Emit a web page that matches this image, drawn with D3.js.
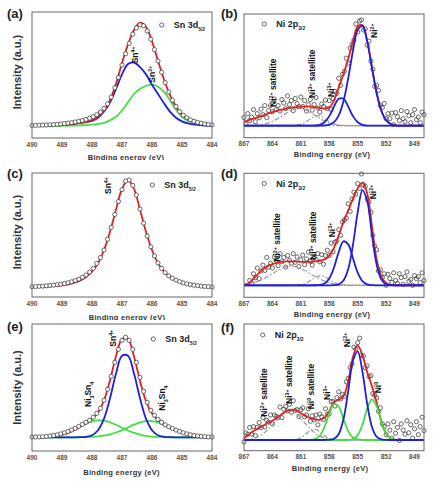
<!DOCTYPE html>
<html><head><meta charset="utf-8">
<script src="https://cdn.jsdelivr.net/npm/d3@7"></script>
<style>html,body{margin:0;padding:0;background:#fff;}svg{display:block;font-family:"Liberation Sans",Arial,sans-serif;}</style>
</head><body><svg id="c" width="443" height="483"></svg>
<script>
// ---------- data ----------
const snEnergy=[490,489.8,489.6,489.4,489.2,489,488.8,488.6,488.4,488.2,488,487.8,487.6,487.4,487.2,487,486.8,486.6,486.4,486.2,486,485.8,485.6,485.4,485.2,485,484.8,484.6,484.4,484.2,484];
const niEnergy=[867,866.5,866,865.5,865,864.5,864,863.5,863,862.5,862,861.5,861,860.5,860,859.5,859,858.5,858,857.5,857,856.5,856,855.5,855,854.5,854,853.5,853,852.5,852,851.5,851,850.5,850,849.5,849,848.5,848];
const snTicks=[490,489,488,487,486,485,484];
const niTicks=[867,864,861,858,855,852,849];

// (a) Sn 3d5/2
const aFit=[0.3,0.4,0.5,0.7,0.9,1.2,1.6,2.2,3,4,5.5,9,15,25,41,61,79,93,100,96,82,63,45,30,19,11,6.5,4,2.5,1.5,1];
const aSn4=[0.3,0.4,0.5,0.7,0.9,1.2,1.6,2.2,3,3.8,5,8,14,23,36,50,60,61.5,57,50,40,31,22,14,8,4.5,2.5,1.5,0.8,0.4,0.2];
const aSn2=[0,0,0.1,0.1,0.2,0.3,0.4,0.5,0.7,0.9,1.3,2,3,5.5,9,15,23,31,36,39,40,38,33,25,16,9,5,3,1.5,1,0.5];
const aPts=[0.5,0.6,0.7,0.8,1,1.2,1.4,1.7,2,2.4,2.8,3.3,3.9,4.6,5.4,6.4,7.6,9,11,13.5,17,21.5,28,37,47,59,70,80,89,95,98,97,92,84,74,63,52,42,33,25,19,14,10.5,8,6,4.6,3.5,2.7,2,1.5,1.2];
// (c) Sn 3d5/2
const cFit=[0.4,0.6,0.9,1.2,1.7,2.3,3.2,4.5,6.5,10,15,22.7,35,52,72.5,91.7,100,91.7,72.5,52,35,22.7,15,10,6.5,4.5,3.2,2.3,1.7,1.2,0.9];
const cPts=[1,1.1,1.3,1.5,1.8,2.1,2.4,2.8,3.3,3.9,4.6,5.5,6.6,8,9.7,11.8,14.5,18,22.5,28,35,45,56,68,80,91,99,100,95,86,73,60,48,38,29.5,23,18,14,11,8.8,7,5.6,4.5,3.6,2.9,2.3,1.9,1.5,1.2,1,0.8];
// (e) Sn 3d5/2
const eFit=[0.1,0.2,0.4,0.8,1.5,2.7,4.5,7,10.6,14.2,18.4,24.9,36.8,56.9,81,98.2,98.2,80.7,56.6,36.2,23.9,17.3,13.3,10,7.1,4.8,2.9,1.6,0.86,0.41,0.18];
const eSn4=[0,0,0,0,0,0,0,0,0.1,0.5,2,7,18.6,39,63.7,81.5,81.5,63.7,39,18.6,7,2,0.5,0.1,0,0,0,0,0,0,0];
const eNiSnA=[0.05,0.15,0.35,0.75,1.4,2.6,4.4,7,10.5,13.5,16,17,16.6,15,12.5,9.6,6.8,4.4,2.7,1.5,0.75,0.35,0.15,0.05,0,0,0,0,0,0,0];
const eNiSnB=[0,0,0,0,0,0,0,0,0.08,0.18,0.41,0.86,1.6,2.9,4.8,7.1,9.9,12.6,14.9,16.1,16.1,14.9,12.6,9.9,7.1,4.8,2.9,1.6,0.86,0.41,0.18];
const ePts=[0.2,0.3,0.4,0.6,0.9,1.3,1.8,2.5,3.4,4.5,5.8,7.3,9,11,13,15,17,20,24,29,37,48,61,75,88,97,100,97,88,75,60,46,35,27,22,18,15,12.5,10.5,8.8,7.2,5.8,4.5,3.4,2.5,1.8,1.3,0.9,0.6,0.4,0.3];

// (b) Ni 2p3/2
const bFit=[4,5.5,7,8.5,10,12,13.5,15,16,17,18,18.5,19,19,19,18.5,17.5,17,18,25,38,51.5,66.3,84,98.5,100,84.2,58,32.5,14.8,5.5,1.7,0.4,0.1,0,0,0,0,0];
const bNi2=[0,0,0,0,0,0,0,0,0,0,0,0,0,0,0,0,0,0.2,1,3.5,10.2,24.3,47.1,74.2,95.1,99.1,84,57.9,32.5,14.8,5.5,1.7,0.4,0.1,0,0,0,0,0];
const bNi3=[0,0,0,0,0,0,0,0,0,0,0,0,0,0,0,0.15,0.85,3.4,9.5,19,26.8,26.8,19,9.5,3.4,0.85,0.15,0,0,0,0,0,0,0,0,0,0,0,0];
const bSat1=[0.05,0.13,0.3,0.7,1.4,2.6,4.4,6.8,9.7,12.7,15.2,16.7,16.9,15.6,13.3,10.3,7.4,4.8,2.9,1.6,0.8,0.4,0.15,0.05,0,0,0,0,0,0,0,0,0,0,0,0,0,0,0];
const bSat2=[0,0,0,0,0,0,0,0,0,0,0.07,0.4,1.35,3.5,6.7,9.5,9.8,7.4,4.1,1.7,0.5,0.1,0,0,0,0,0,0,0,0,0,0,0,0,0,0,0,0,0];
const bPts=[8,1.5,12,5,8.5,16,4,12,8,16.5,11,20,8,15,20,14,26.5,16,20,14.5,26,22.5,17,29.5,21,25,15,27,22,19,28.5,19,25,14.5,21,26,15.5,21,28,17.5,13.5,21.5,19,25.5,17,25,16,27,34,32,47,40,51,54,67,62,77,81,85,101,93,104,105,95,96,80,84,64,56,39,40,35,20,18,22,7,12,7,12.5,1,13,9,5,15,7,4,14,10,3,11,16,6,8.5,3,13.5,11];
// (d) Ni 2p3/2
const dFit=[0.5,2,7,12,17,20,22,23.5,24.5,25,25,25,24.5,24.5,24.5,25,25.5,27,31,39,52,66,78,90,101,107,96,62,27,9,2.5,0.5,0,0,0,0,0,0,0];
const dNi2=[0,0,0,0,0,0,0,0,0,0,0,0,0,0,0,0,0,0,0,0.1,1,5,17,42,76,99.2,88.2,53.1,21.6,6,1.1,0.14,0,0,0,0,0,0,0];
const dNi3=[0,0,0,0,0,0,0,0,0,0,0,0,0,0,0,0.05,0.36,1.9,7.1,18.6,34.7,45.8,42.7,28.2,13.2,4.4,1,0.2,0,0,0,0,0,0,0,0,0,0,0];
const dSat1=[0.9,1.6,2.7,4.3,6.5,9.2,12.1,15.1,17.6,19.4,20,19.4,17.6,15.1,12.1,9.2,6.5,4.3,2.7,1.6,0.9,0.5,0.2,0.1,0,0,0,0,0,0,0,0,0,0,0,0,0,0,0];
const dSat2=[0,0,0,0,0,0,0,0,0,0,0,0.15,0.66,2.1,4.7,8,9.9,9.1,6.1,3,1.1,0.3,0.05,0,0,0,0,0,0,0,0,0,0,0,0,0,0,0,0];
const dPts=[5,2,12,8,18,7,15,21,15.5,29,19,23,18,29.5,26,20.5,33,24.5,29,19,31,26,23,33,24,29.5,19.5,26.5,31.5,21.5,27.5,34.5,25,21,29.5,27,33,24.5,32,22,31,36.5,31,44,35,45,46,58,52,66,68,70,85,77,90,97,95,106,101,116,105,103,90,87,76,52,41,37,15,16,8,12,0,11.5,7,3,13,5,2,12,8,1,9,14,4,6,0,10,7,9,3,13,5];
// (f) Ni 2p3/2
const fFit=[2,6,10,13,16,19,21.5,25,29,32.5,34,33,30,27,24.5,23,22.5,25,32,42.5,45,49,66,93,106,95,76,60.5,42,21,7.1,1.5,0.2,0,0,0,0,0,0];
const fNi2=[0,0,0,0,0,0,0,0,0,0,0,0,0,0,0,0,0,0,0.2,1.4,6.8,23.3,54.8,88.8,99.3,76.5,40.7,14.9,3.8,0.65,0.08,0,0,0,0,0,0,0,0];
const fNi3=[0,0,0,0,0,0,0,0,0,0,0,0,0,0,0.17,1.1,4.9,14.6,29.5,40.3,37.3,23.3,9.9,2.8,0.55,0.07,0,0,0,0,0,0,0,0,0,0,0,0,0];
const fNi0=[0,0,0,0,0,0,0,0,0,0,0,0,0,0,0,0,0,0,0,0,0,0,0.14,1.1,5.4,17.1,34.8,45.4,38,20.4,7,1.5,0.2,0,0,0,0,0,0];
const fSatA=[0.36,0.87,1.9,3.8,6.9,11.4,17,23,28.2,31.4,31.7,29.1,24.2,18.2,12.4,7.7,4.3,2.2,1,0.43,0.16,0,0,0,0,0,0,0,0,0,0,0,0,0,0,0,0,0,0];
const fSatB=[0,0,0,0,0,0,0,0,0,0,0.13,0.7,2.6,6.4,10.6,11.9,9.1,4.7,1.6,0.4,0.06,0,0,0,0,0,0,0,0,0,0,0,0,0,0,0,0,0,0];
const fPts=[-2,8,6.5,14,6.5,15,5,14,19.5,14,25,14.5,22,20,28,18,28,26.5,25,37,25,34.5,37.5,32.5,40,31,44,33,34,26,34,36,26,28,35,21,27,22.5,28,17,29,26,23,35,29,29,43,43,38,47.5,54,46,51,49,65,69,81,85,104,102,109,114,95,94,81,83,71,72,52,50,47,32,36,18,15,6,18,11,2,20.5,7.5,14,-0.5,18,11,6.5,21.5,8,17,2,12.5,20.5,6,15,25.5,10.5];

// ---------- style ----------
const RED="#e3211f",BLUE="#1f1fdc",GREEN="#3fe03f",GRAY="#9a9a9a";
const svg=d3.select("#c");
const defs=svg.append("defs");
defs.append("clipPath").attr("id","row1").append("rect").attr("x",0).attr("y",0).attr("width",443).attr("height",160);
defs.append("clipPath").attr("id","row2").append("rect").attr("x",0).attr("y",0).attr("width",443).attr("height",320);

const sup=t=>[t,"sup"], sub=t=>[t,"sub"], n=t=>[t,""];
const panels=[
 {lab:"(a)",lx:7,ly:18,box:[32,12,212,138],xd:[490,484],yd:[-11.6,110.4],ticks:snTicks,E:snEnergy,sn:true,
  curves:[{v:aSn2,c:GREEN},{v:aSn4,c:BLUE},{v:aFit,c:RED}],pts:aPts,p0:490,ps:0.12,
  leg:{t:"Sn 3d",s:"5/2",cx:161.7,cy:25},xt:{x:126,y:159.5,clip:"row1"},yt:72,
  labels:[{p:[n("Sn"),sup("4+")],x:135.3,y:63.3},{p:[n("Sn"),sup("2+")],x:151.7,y:82.7}]},
 {lab:"(b)",lx:221,ly:18,box:[244,14,424,137.7],xd:[867,848],yd:[-11.9,110.9],ticks:niTicks,E:niEnergy,sn:false,
  sats:[bSat1,bSat2],curves:[{v:bFit,c:RED},{v:bNi3,c:BLUE},{v:bNi2,c:BLUE}],pts:bPts,p0:867,ps:0.2,
  leg:{t:"Ni 2p",s:"3/2",cx:264.3,cy:24},xt:{x:332,y:157},
  labels:[{p:[n("Ni"),sup("2+"),n(" satellite")],x:272.7,y:107},{p:[n("Ni"),sup("3+"),n(" satellite")],x:311.7,y:98},
          {p:[n("Ni"),sup("3+")],x:331,y:97},{p:[n("Ni"),sup("2+")],x:374,y:38}]},
 {lab:"(c)",lx:7,ly:178,box:[32,173,212,297],xd:[490,484],yd:[-8.6,106.5],ticks:snTicks,E:snEnergy,sn:true,
  curves:[{v:cFit,c:RED}],pts:cPts,p0:490,ps:0.12,
  leg:{t:"Sn 3d",s:"5/2",cx:152.3,cy:185},xt:{x:127,y:319.5,clip:"row2"},yt:232,
  labels:[{p:[n("Sn"),sup("4+")],x:108,y:194}]},
 {lab:"(d)",lx:221,ly:177.5,box:[244,173.3,424,297.3],xd:[867,848],yd:[-12.5,116.7],ticks:niTicks,E:niEnergy,sn:false,
  sats:[dSat1,dSat2],curves:[{v:dFit,c:RED},{v:dNi3,c:BLUE},{v:dNi2,c:BLUE}],pts:dPts,p0:866.4,ps:0.2,
  leg:{t:"Ni 2p",s:"3/2",cx:264.3,cy:183.5},xt:{x:332,y:317},
  labels:[{p:[n("Ni"),sup("2+"),n(" satellite")],x:277,y:261.7},{p:[n("Ni"),sup("3+"),n(" satellite")],x:312.7,y:260},
          {p:[n("Ni"),sup("3+")],x:332,y:237.3},{p:[n("Ni"),sup("2+")],x:372.7,y:199.3}]},
 {lab:"(e)",lx:7,ly:331,box:[32,324,212,451],xd:[490,484],yd:[-13.7,113.3],ticks:snTicks,E:snEnergy,sn:true,
  curves:[{v:eNiSnA,c:GREEN},{v:eNiSnB,c:GREEN},{v:eSn4,c:BLUE},{v:eFit,c:RED}],pts:ePts,p0:490,ps:0.12,
  leg:{t:"Sn 3d",s:"5/2",cx:153.3,cy:339},xt:{x:121.5,y:475},yt:387.5,
  labels:[{p:[n("Sn"),sup("4+")],x:113,y:346.7},{p:[n("Ni"),sub("3"),n("Sn"),sub("4")],x:88,y:407},
          {p:[n("Ni"),sub("3"),n("Sn"),sub("4")],x:162,y:410.7}]},
 {lab:"(f)",lx:221,ly:331.5,box:[244,324,424,450.7],xd:[867,848],yd:[-12,129.9],ticks:niTicks,E:niEnergy,sn:false,
  sats:[fSatA,fSatB],curves:[{v:fFit,c:RED},{v:fNi3,c:GREEN},{v:fNi0,c:GREEN},{v:fNi2,c:BLUE}],pts:fPts,p0:867,ps:0.2,
  leg:{t:"Ni 2p",s:"3/2",cx:262.7,cy:335},xt:{x:330,y:471},
  labels:[{p:[n("Ni"),sup("2+"),n(" satellite")],x:264.3,y:416.7},{p:[n("Ni"),sup("3+"),n(" satellite")],x:288.7,y:404},
          {p:[n("Ni"),sup("0"),n(" satellite")],x:311,y:409.3},{p:[n("Ni"),sup("3+")],x:327,y:400},
          {p:[n("Ni"),sup("2+")],x:347,y:347.3},{p:[n("Ni"),sup("0")],x:377.7,y:393.3}]}
];

function rich(sel,parts,size){
  parts.forEach(([t,k])=>{
    const ts=sel.append("tspan").text(t);
    if(k==="sup")ts.attr("font-size",size*0.62).attr("baseline-shift","super");
    if(k==="sub")ts.attr("font-size",size*0.62).attr("baseline-shift","sub");
  });
}

panels.forEach(P=>{
  const [x0,y0,x1,y1]=P.box;
  const x=d3.scaleLinear().domain(P.xd).range([x0,x1]);
  const y=d3.scaleLinear().domain(P.yd).range([y1,y0]);
  const g=svg.append("g");
  const line=d3.line().x((d,i)=>x(P.E[i])).y(d=>y(d)).curve(d3.curveCatmullRom.alpha(0.5));
  const ptsData=P.pts.map((v,i)=>({e:P.p0-i*P.ps,v}));
  const drawPts=fill=>g.append("g").selectAll("circle").data(ptsData).join("circle")
      .attr("cx",d=>x(d.e)).attr("cy",d=>y(d.v)).attr("r",2.1)
      .attr("fill",fill).attr("stroke","#3a3a3a").attr("stroke-width",0.75);
  if(!P.sn){
    drawPts("none");
    g.append("line").attr("x1",x(P.xd[0])).attr("x2",x(P.xd[1])).attr("y1",y(0)).attr("y2",y(0))
      .attr("stroke",GRAY).attr("stroke-width",1.2).attr("stroke-dasharray","6,2,1.5,2");
    P.sats.forEach(s=>g.append("path").attr("d",line(s)).attr("fill","none").attr("stroke",GRAY)
      .attr("stroke-width",1.2).attr("stroke-dasharray","5,2,1.5,2"));
  }
  P.curves.forEach(c=>g.append("path").attr("d",line(c.v)).attr("fill","none").attr("stroke",c.c).attr("stroke-width",1.8));
  if(P.sn) drawPts("#fff");
  g.append("rect").attr("x",x0).attr("y",y0).attr("width",x1-x0).attr("height",y1-y0)
    .attr("fill","none").attr("stroke","#666").attr("stroke-width",1);
  g.selectAll("text.tk").data(P.ticks).join("text").attr("class","tk")
    .attr("x",d=>x(d)).attr("y",y1+8.5).attr("text-anchor","middle")
    .attr("font-size",6.5).attr("font-weight","bold").attr("fill","#555").text(d=>d);
  const xt=g.append("text").attr("x",P.xt.x).attr("y",P.xt.y).attr("text-anchor","middle")
    .attr("font-size",7.5).attr("font-weight","bold").attr("fill","#333").attr("letter-spacing",0.3)
    .text("Binding energy (eV)");
  if(P.xt.clip)xt.attr("clip-path",`url(#${P.xt.clip})`);
  if(P.yt!==undefined){
    g.append("text").attr("transform",`translate(17,${P.yt}) rotate(-90)`).attr("dy","0.35em")
      .attr("text-anchor","middle").attr("font-size",11).attr("font-weight","bold").attr("fill","#333")
      .text("Intensity (a.u.)");
  }
  g.append("text").attr("x",P.lx).attr("y",P.ly).attr("font-size",13).attr("font-weight","bold").attr("fill","#222").text(P.lab);
  g.append("circle").attr("cx",P.leg.cx).attr("cy",P.leg.cy).attr("r",2.1).attr("fill","#fff")
    .attr("stroke","#3a3a3a").attr("stroke-width",0.75);
  const lt=g.append("text").attr("x",P.leg.cx+12).attr("y",P.leg.cy+3.2).attr("font-size",9)
    .attr("font-weight","bold").attr("fill","#222");
  lt.append("tspan").text(P.leg.t);
  lt.append("tspan").attr("font-size",5).attr("baseline-shift","sub").text(P.leg.s);
  P.labels.forEach(L=>{
    const t=g.append("text").attr("transform",`translate(${L.x},${L.y}) rotate(-90)`).attr("dy","0.35em")
      .attr("font-size",8.5).attr("font-weight","bold").attr("fill","#111");
    rich(t,L.p,8.5);
  });
});
</script></body></html>
